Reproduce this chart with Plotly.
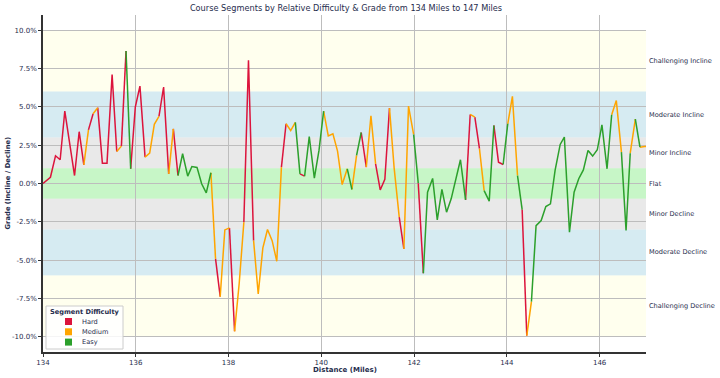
import plotly.graph_objects as go

# ---------------- data ----------------
distance = [134.00, 134.16, 134.27, 134.37, 134.47, 134.57, 134.68, 134.78, 134.88, 134.98,
            135.08, 135.18, 135.28, 135.38, 135.49, 135.59, 135.69, 135.79, 135.89, 135.99,
            136.09, 136.20, 136.30, 136.40, 136.50, 136.60, 136.71, 136.81, 136.91,
            137.01, 137.12, 137.21, 137.32, 137.42, 137.52, 137.62, 137.72, 137.82, 137.92,
            138.02, 138.13, 138.23, 138.33, 138.43, 138.54, 138.64, 138.74, 138.84, 138.94,
            139.04, 139.14, 139.24, 139.34, 139.44, 139.54, 139.64, 139.74, 139.85, 139.95,
            140.05, 140.15, 140.25, 140.35, 140.45, 140.56, 140.66, 140.76, 140.86, 140.97,
            141.07, 141.17, 141.27, 141.37, 141.47, 141.57, 141.68, 141.78, 141.88, 141.99,
            142.09, 142.20, 142.29, 142.40, 142.50, 142.60, 142.70, 142.80, 142.90,
            143.00, 143.11, 143.21, 143.31, 143.41, 143.51, 143.62, 143.72, 143.82, 143.92,
            144.02, 144.12, 144.23, 144.33, 144.43, 144.53, 144.63, 144.74, 144.84, 144.94,
            145.04, 145.15, 145.24, 145.35, 145.45, 145.55, 145.65, 145.75, 145.85, 145.95,
            146.05, 146.16, 146.26, 146.36, 146.47, 146.57, 146.66, 146.77, 146.87, 146.97,
            147.07]

grade = [0.00, 0.41, 1.81, 1.55, 4.73, 2.80, 0.52, 3.38, 1.22, 3.50,
         4.55, 4.95, 1.33, 1.33, 7.12, 2.09, 2.44, 8.65, 0.96, 4.99,
         6.36, 1.72, 1.98, 3.86, 4.38, 6.30, 0.63, 3.57, 0.52,
         1.94, 0.48, 1.11, 1.05, -0.02, -0.61, 0.70, -4.92, -7.39, -3.03,
         -2.90, -9.65, -6.51, -2.53, 8.04, -3.73, -7.21, -4.20, -3.00, -3.73,
         -5.08, 1.07, 3.90, 3.46, 3.99, 0.63, 0.48, 3.07, 0.35, 2.16,
         4.73, 3.10, 3.25, 2.11, -0.07, 0.96, -0.39, 1.83, 3.33, 1.07,
         4.42, 1.28, -0.42, 0.28, 4.92, 1.02, -2.20, -4.27, 5.05, 3.20,
         0.02, -5.86, -0.57, 0.33, -2.37, -0.39, -1.87, -1.00, 0.20,
         1.55, -1.07, 4.51, 4.33, 2.27, -0.46, -1.15, 3.79, 1.39, 1.24,
         3.90, 5.69, 0.52, -1.70, -9.93, -7.71, -2.75, -2.42, -1.50, -1.33,
         0.85, 2.55, 3.03, -3.18, -0.57, 0.31, 0.89, 2.16, 1.79, 2.20,
         3.83, 0.96, 4.49, 5.42, 2.05, -3.07, 1.98, 4.20, 2.37, 2.42,
         2.40]

# difficulty of each segment (from point i to point i+1): H=Hard, M=Medium, E=Easy
segment_difficulty = list(
    "HHHHHHHH" "M" "H" "M" "HHHH" "M" "H" "E" "HHH" "MMM" "HH" "M" "H"
    "EEEEEEE" "M" "H" "MM" "H" "MM" "HH" "MMMMMM" "H" "MM" "E" "H" "EEEE"
    "MMMMM" "E" "M" "E" "H" "MM" "HHH" "MM" "H" "MM" "E" "H" "EEEEEEEEE"
    "H" "M" "H" "M" "EE" "HH" "E" "MM" "E" "H" "M" "EEEEEEEEEEEEEEEEE"
    "MM" "EE" "M" "E" "MM"
)

difficulty_names = {"H": "Hard", "M": "Medium", "E": "Easy"}
difficulty_order = ["H", "M", "E"]

band_low = [6, 3, 1, -1, -3, -6, -10]
band_high = [10, 6, 3, 1, -1, -3, -6]
band_label = ["Challenging Incline", "Moderate Incline", "Minor Incline", "Flat",
              "Minor Decline", "Moderate Decline", "Challenging Decline"]
band_label_y = [8, 4.5, 2, 0, -2, -4.5, -8]

y_ticks = [-10.0, -7.5, -5.0, -2.5, 0.0, 2.5, 5.0, 7.5, 10.0]
x_ticks = [134, 136, 138, 140, 142, 144, 146]

# ---------------- styles ----------------
colors = {"H": "#DC143C", "M": "#FFA500", "E": "#2CA02C"}
band_colors = ["rgba(255,255,224,0.55)", "rgba(173,216,230,0.5)", "rgba(211,211,211,0.5)",
               "rgba(144,238,144,0.5)", "rgba(211,211,211,0.5)", "rgba(173,216,230,0.5)",
               "rgba(255,255,224,0.55)"]
text_color = "#1f2d4d"
font_family = "DejaVu Sans"

W, H = 720, 378
ML, MR, MT, MB = 43, 74, 15, 26
PW, PH = W - ML - MR, H - MT - MB


def px_x(px):
    return (px - ML) / PW


def px_y(py):
    return (H - MB - py) / PH


assert len(distance) == len(grade) == len(segment_difficulty) + 1

fig = go.Figure()

# build runs of consecutive same-difficulty segments per colour
for code in difficulty_order:
    xs, ys = [], []
    i = 0
    n = len(segment_difficulty)
    while i < n:
        if segment_difficulty[i] == code:
            j = i
            while j < n and segment_difficulty[j] == code:
                j += 1
            xs.extend(distance[i:j + 1]); ys.extend(grade[i:j + 1])
            xs.append(None); ys.append(None)
            i = j
        else:
            i += 1
    fig.add_trace(go.Scatter(x=xs, y=ys, mode="lines", name=difficulty_names[code],
                             line=dict(color=colors[code], width=1.5),
                             showlegend=False, hoverinfo="skip"))

# background bands
for lo, hi, c in zip(band_low, band_high, band_colors):
    fig.add_shape(type="rect", xref="paper", yref="y", x0=0, x1=1, y0=lo, y1=hi,
                  fillcolor=c, line=dict(width=0), layer="below")

# band labels on the right
for lab, yv in zip(band_label, band_label_y):
    fig.add_annotation(text=lab, xref="paper", yref="y", x=1, y=yv, xanchor="left",
                       yanchor="middle", xshift=1, showarrow=False,
                       font=dict(size=6.6, color=text_color, family=font_family))

# legend box (drawn manually to match compact matplotlib legend)
fig.add_shape(type="rect", xref="paper", yref="paper",
              x0=px_x(46), x1=px_x(123), y0=px_y(349), y1=px_y(306),
              fillcolor="rgba(255,255,255,0.85)", line=dict(color="#cccccc", width=1),
              layer="above")
fig.add_annotation(text="<b>Segment Difficulty</b>", xref="paper", yref="paper",
                   x=px_x(84.5), y=px_y(311.5), xanchor="center", yanchor="middle",
                   showarrow=False, font=dict(size=6.6, color=text_color, family=font_family))
for k, code in enumerate(difficulty_order):
    cy = 321.5 + k * 10.3
    fig.add_shape(type="rect", xref="paper", yref="paper",
                  x0=px_x(65), x1=px_x(72), y0=px_y(cy + 3.5), y1=px_y(cy - 3.5),
                  fillcolor=colors[code], line=dict(width=0), layer="above")
    fig.add_annotation(text=difficulty_names[code], xref="paper", yref="paper",
                       x=px_x(80), y=px_y(cy), xanchor="left", yanchor="middle",
                       showarrow=False, font=dict(size=6.6, color=text_color, family=font_family))

# axis titles
fig.add_annotation(text="<b>Distance (Miles)</b>", xref="paper", yref="paper",
                   x=px_x(345), y=px_y(369.5), xanchor="center", yanchor="middle",
                   showarrow=False, font=dict(size=7, color=text_color, family=font_family))
fig.add_annotation(text="<b>Grade (Incline / Decline)</b>", xref="paper", yref="paper",
                   x=px_x(7.5), y=px_y(183), xanchor="center", yanchor="middle", textangle=-90,
                   showarrow=False, font=dict(size=6.8, color=text_color, family=font_family))

fig.update_layout(
    width=W, height=H,
    margin=dict(l=ML, r=MR, t=MT, b=MB, autoexpand=False),
    plot_bgcolor="white", paper_bgcolor="white",
    font=dict(family=font_family, size=7, color=text_color),
    title=dict(text="Course Segments by Relative Difficulty & Grade from 134 Miles to 147 Miles",
               xref="paper", x=px_x(346), xanchor="center", yref="container",
               y=1 - 8 / H, yanchor="middle",
               font=dict(size=8.2, color=text_color, family=font_family)),
    showlegend=False,
)

fig.update_xaxes(range=[134, 147], tickvals=x_ticks, ticktext=[str(v) for v in x_ticks],
                 showgrid=True, gridcolor="#bdbdbd", gridwidth=1, zeroline=False,
                 showline=True, linecolor="#333333", linewidth=1.5,
                 ticks="outside", ticklen=3, tickcolor="#333333", automargin=False,
                 tickfont=dict(size=7, color=text_color))
fig.update_yaxes(range=[-11, 11], tickvals=y_ticks,
                 ticktext=[f"{v:.1f}%" for v in y_ticks],
                 showgrid=True, gridcolor="#bdbdbd", gridwidth=1, zeroline=False,
                 showline=True, linecolor="#333333", linewidth=1.5,
                 ticks="outside", ticklen=3, tickcolor="#333333", automargin=False,
                 tickfont=dict(size=7, color=text_color))

fig.write_html("out.html", config={"displayModeBar": False},
               post_script="document.body.style.margin='0';document.body.style.overflow='hidden';")
